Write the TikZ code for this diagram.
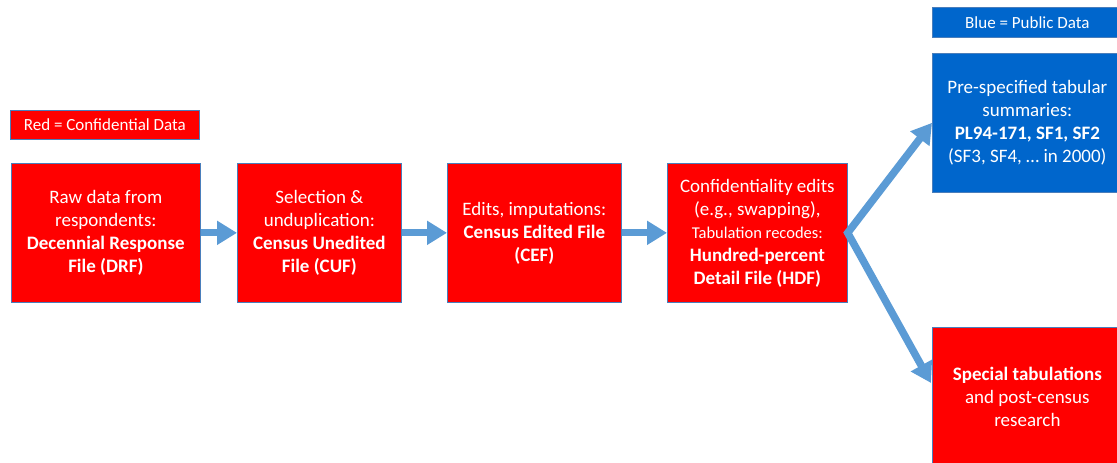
\documentclass[tikz,border=0pt]{standalone}
\usepackage{fontspec}
\setmainfont{Carlito}
\usetikzlibrary{arrows.meta}
\definecolor{cred}{HTML}{FF0000}
\definecolor{cblue}{HTML}{0066CC}
\definecolor{carrow}{HTML}{5B9BD5}
\definecolor{cborder}{HTML}{4A7EBB}
\tikzset{
  box/.style={rectangle, fill=cred, draw=cborder, line width=0.7pt, text=white,
    align=center, inner sep=0pt, anchor=north west,
    font=\fontsize{19}{23}\selectfont},
  pubbox/.style={box, fill=cblue},
  legend/.style={box, font=\fontsize{17}{20}\selectfont},
  arr/.style={draw=carrow, line width=7pt, -{Triangle[length=20pt,width=23pt]}},
  darr/.style={draw=carrow, line width=7.5pt, miter limit=10,
    {Triangle[length=20pt,width=23pt]}-{Triangle[length=20pt,width=23pt]}}
}
\begin{document}
\begin{tikzpicture}[x=1pt,y=-1pt]
\useasboundingbox (0,0) rectangle (1117,463);
\clip (0,0) rectangle (1117,463);
\node[legend, minimum width=189pt, minimum height=29pt] (redleg) at (10,110) {Red = Confidential Data};
\node[legend, fill=cblue, minimum width=190pt, minimum height=30pt] (blueleg) at (932,7) {Blue = Public Data};
\node[box, minimum width=189pt, minimum height=139pt] (b1) at (11,163)
  {Raw data from\\respondents:\\\textbf{Decennial Response}\\\textbf{File (DRF)}};
\node[box, minimum width=164pt, minimum height=139pt] (b2) at (237,163)
  {Selection \&\\unduplication:\\\textbf{Census Unedited}\\\textbf{File (CUF)}};
\node[box, minimum width=174pt, minimum height=139pt] (b3) at (447,163)
  {Edits, imputations:\\\textbf{Census Edited File}\\\textbf{(CEF)}};
\node[box, minimum width=180pt, minimum height=139pt] (b4) at (667,163)
  {Confidentiality edits\\(e.g., swapping),\\{\fontsize{16.5}{21}\selectfont Tabulation recodes:}\\\textbf{Hundred-percent}\\\textbf{Detail File (HDF)}};
\node[pubbox, minimum width=190pt, minimum height=139pt] (pub) at (932,53)
  {Pre-specified tabular\\summaries:\\\textbf{PL94-171, SF1, SF2}\\(SF3, SF4, … in 2000)};
\node[box, minimum width=190pt, minimum height=140pt] (spec) at (932,327)
  {\textbf{Special tabulations}\\and post-census\\research};
\coordinate (lt) at (931,383);
\draw[arr] (b1.east) -- (b2.west);
\draw[arr] (b2.east) -- (b3.west);
\draw[arr] (b3.east) -- (b4.west);
\draw[darr] (pub.west) -- (b4.east) -- (lt);
\end{tikzpicture}
\end{document}
